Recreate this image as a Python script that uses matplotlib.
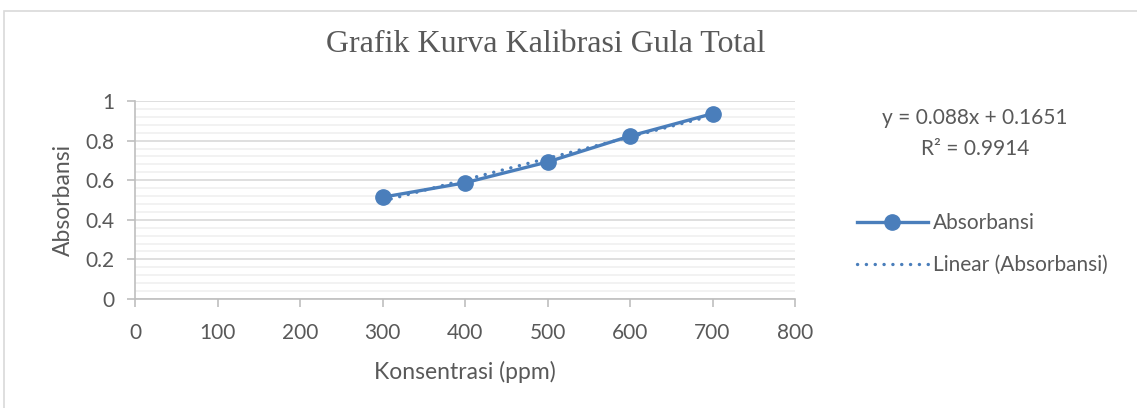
import numpy as np
import matplotlib.pyplot as plt
from matplotlib.patches import Rectangle
from matplotlib.ticker import MultipleLocator
from matplotlib.lines import Line2D

konsentrasi = [300, 400, 500, 600, 700]
absorbansi = [0.514, 0.587, 0.692, 0.823, 0.936]
x_ticks = [0, 100, 200, 300, 400, 500, 600, 700, 800]
y_ticks = [0, 0.2, 0.4, 0.6, 0.8, 1]
y_labels = ['0', '0.2', '0.4', '0.6', '0.8', '1']
persamaan = 'y = 0.088x + 0.1651'
r_kuadrat = 'R² = 0.9914'

blue = '#4a7ebb'
grey = '#595959'
sans = ['Lato', 'DejaVu Sans']
dots = (0, (0.05, 2.6))

fig = plt.figure(figsize=(11.37, 4.08), dpi=100)
W, H = 1137, 408
ax = fig.add_axes([135 / W, 1 - 299 / H, 660 / W, 198 / H])

# chart area border
fig.patches.append(Rectangle((4 / W, -0.1), 1.2, 1 - 11 / H + 0.1,
                             transform=fig.transFigure, fill=False,
                             edgecolor='#d9d9d9', linewidth=1.2))

# trendline
k = np.polyfit(konsentrasi, absorbansi, 1)
xt = np.array([konsentrasi[0], konsentrasi[-1]])
ax.plot(xt, np.polyval(k, xt), color=blue, lw=2.4, linestyle=dots,
        dash_capstyle='round', zorder=3)
ax.plot(konsentrasi, absorbansi, color=blue, lw=2.4, marker='o', ms=11, zorder=4)

ax.set_xlim(0, 800)
ax.set_ylim(0, 1)
ax.set_xticks(x_ticks)
ax.set_yticks(y_ticks)
ax.set_yticklabels(y_labels)
ax.yaxis.set_minor_locator(MultipleLocator(0.04))
ax.grid(which='major', axis='y', color='#d9d9d9', lw=1.2)
ax.grid(which='minor', axis='y', color='#f0f0f0', lw=1.2)
ax.set_axisbelow(True)
for s in ['top', 'right']:
    ax.spines[s].set_visible(False)
for s in ['left', 'bottom']:
    ax.spines[s].set_color('#bfbfbf')
    ax.spines[s].set_linewidth(1.2)
ax.tick_params(axis='both', which='major', color='#bfbfbf', length=6, width=1.2,
               labelsize=15, labelcolor=grey, pad=9)
ax.tick_params(axis='x', which='major', pad=11)
ax.tick_params(axis='y', which='minor', length=0)
for lab in ax.get_xticklabels() + ax.get_yticklabels():
    lab.set_family(sans)

ax.set_xlabel('Konsentrasi (ppm)', fontsize=16.5, color=grey, family=sans, labelpad=13)
ax.set_ylabel('Absorbansi', fontsize=16.5, color=grey, family=sans, labelpad=8)

fig.text(546 / W, 1 - 44 / H, 'Grafik Kurva Kalibrasi Gula Total', ha='center',
         va='center', fontsize=23, color=grey, family='Liberation Serif')

fig.text(975 / W, 1 - 118 / H, persamaan, ha='center', va='center',
         fontsize=15, color=grey, family=sans)
fig.text(975 / W, 1 - 149 / H, r_kuadrat, ha='center', va='center',
         fontsize=15, color=grey, family=sans)

handles = [Line2D([], [], color=blue, lw=2.4, marker='o', ms=11),
           Line2D([], [], color=blue, lw=2.4, linestyle=dots,
                  dash_capstyle='round')]
leg = fig.legend(handles, ['Absorbansi', 'Linear (Absorbansi)'],
                 loc='center left', bbox_to_anchor=(838 / W, 1 - 244 / H),
                 frameon=False, handlelength=3.4, handletextpad=0.25,
                 labelspacing=1.05, prop={'family': sans, 'size': 15})
for t in leg.get_texts():
    t.set_color(grey)

fig.savefig('out.png', dpi=100)
